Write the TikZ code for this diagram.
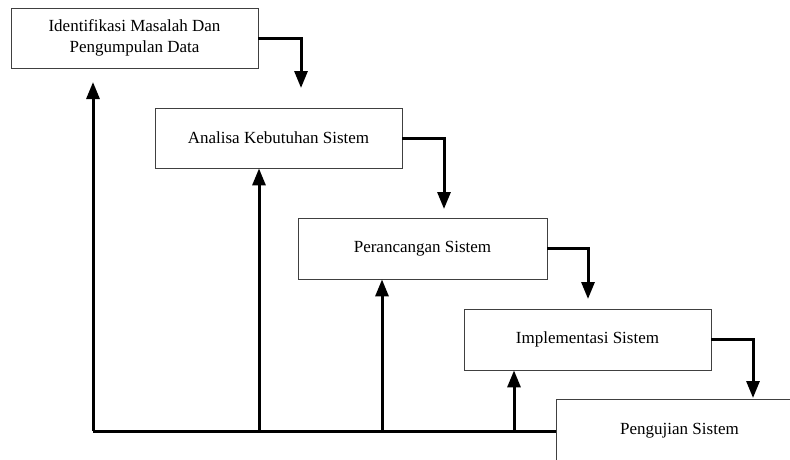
\documentclass[tikz,border=0pt]{standalone}
\usepackage{fontspec}
\setmainfont{Liberation Serif}
\usetikzlibrary{arrows.meta}
\begin{document}
\begin{tikzpicture}[x=1pt,y=-1pt,
  stagebox/.style={draw=black!75,line width=0.8pt,fill=white,minimum width=247pt,minimum height=60pt,
    inner sep=0pt,align=center,font=\fontsize{17}{21}\selectfont},
  conn/.style={line width=3pt,-{Triangle[width=13pt,length=17pt]}},
  plain/.style={line width=3pt}]
\useasboundingbox (0,0) rectangle (790,459);
\clip (0,0) rectangle (790,459);
\node[stagebox] (b1) at (134.5,38) {Identifikasi Masalah Dan\\Pengumpulan Data};
\node[stagebox] (b2) at (278.5,138) {Analisa Kebutuhan Sistem};
\node[stagebox,minimum width=249pt,minimum height=61pt] (b3) at (422.5,248.5) {Perancangan Sistem};
\node[stagebox,minimum height=61pt] (b4) at (587.5,339.5) {Implementasi Sistem};
\node[stagebox,minimum height=64pt] (b5) at (679.5,431) {Pengujian Sistem};
% forward arrows
\coordinate (t1) at (301,88);
\coordinate (t2) at (444,209);
\coordinate (t3) at (588,299);
\coordinate (t4) at (753,398);
\draw[conn] (b1.east) -| (t1);
\draw[conn] (b2.east) -| (t2);
\draw[conn] (b3.east) -| (t3);
\draw[conn] (b4.east) -| (t4);
% return line
\coordinate (base) at (93,431);
\coordinate (r2) at (259,431);
\coordinate (r3) at (382,431);
\coordinate (r4) at (514,431);
\coordinate (u1) at (93,82);
\draw[plain] (b5.west) -- (base);
\draw[conn] (base) -- (u1);
\draw[conn] (r2) -- (r2 |- b2.south);
\draw[conn] (r3) -- (r3 |- b3.south);
\draw[conn] (r4) -- (r4 |- b4.south);
\end{tikzpicture}
\end{document}
